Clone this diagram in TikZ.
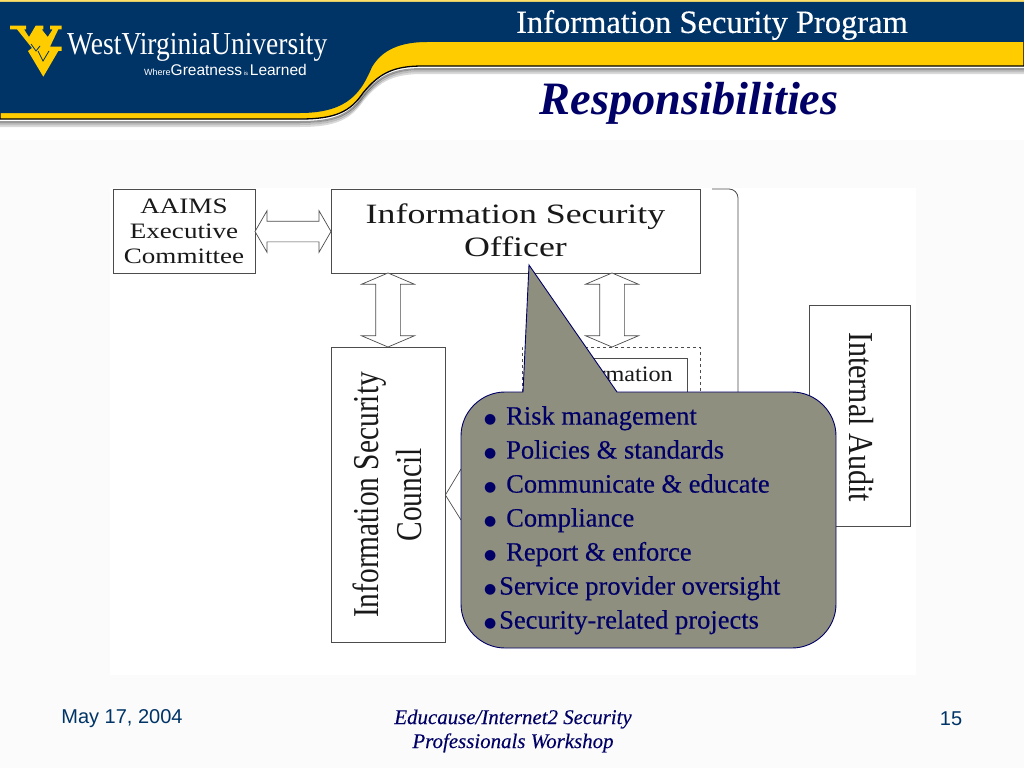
\documentclass[tikz,border=0pt]{standalone}
\usepackage{fontspec}
\setmainfont{Liberation Serif}
\setsansfont{Liberation Sans}
\newfontfamily\heavyserif[FakeBold=0.35]{Liberation Serif}
\newfontfamily\slimitalic[FakeBold=0.2]{Liberation Serif Italic}
\newfontfamily\symfont{DejaVu Sans}
\usetikzlibrary{shapes.arrows}
\definecolor{wvunavy}{RGB}{0,51,102}
\definecolor{wvugold}{RGB}{255,204,0}
\definecolor{calloutgray}{RGB}{143,143,128}
\definecolor{calloutink}{RGB}{0,0,102}
\definecolor{panelgray}{RGB}{250,251,250}
\newcommand{\blt}[1]{\makebox[#1][l]{\raisebox{1.5pt}{\symfont\fontsize{14}{14}\selectfont ●}}}
\newcommand{\stretched}[3]{\scalebox{#1}[#2]{\begin{tabular}{@{}c@{}}#3\end{tabular}}}
\tikzset{
  orgbox/.style={draw=black!70,fill=white,line width=0.8pt,inner sep=0pt},
  boxtext/.style={inner sep=0pt,align=center,text=black!90,font=\fontsize{28}{33}\selectfont},
  twoway/.style n args={4}{double arrow,draw=black!70,fill=white,line width=0.7pt,inner xsep=0pt,inner ysep=#2,
    double arrow head extend=#3,double arrow tip angle=#4,minimum height=#1},
}

\begin{document}
\begin{tikzpicture}[x=1pt,y=-1pt]
\useasboundingbox (0,0) rectangle (1024,768);

\fill[white] (0,0) rectangle (1024,768);
\fill[panelgray] (0,140) rectangle (1024,768);
\fill[white] (110,188) rectangle (916,675);

% header
\fill[wvugold!60] (0,0) rectangle (1024,2);
\foreach \drop/\shade in {7/15,5/25,3/40}{
\draw[black,opacity=0.\shade,line width=2pt] (0,119+\drop) -- (300,119+\drop)
  .. controls (335,119+\drop) and (350,112+\drop) .. (363,93+\drop)
  .. controls (380,72+\drop) and (395,66+\drop) .. (423,66+\drop) -- (1024,66+\drop);
}
\draw[black,fill=wvugold,line width=1.3pt] (0,100) -- (430,30) -- (1024,30) -- (1024,66) -- (423,66)
  .. controls (395,66) and (380,72) .. (363,93)
  .. controls (350,112) and (335,119) .. (300,119) -- (0,119) -- cycle;
\fill[wvunavy] (0,2) -- (1024,2) -- (1024,42) -- (427,42)
  .. controls (400,42) and (382,50) .. (372,67)
  .. controls (362,90) and (350,113) .. (300,113) -- (0,113) -- cycle;

\fill[wvugold] (10,25.7) -- (26,25.7) -- (26,29.3) -- (24,29.3) -- (29,37) -- (35.7,25.7) -- (43.3,25.7)
  -- (43.3,29.3) -- (41.7,29.3) -- (47.7,37) -- (52.7,29.3) -- (50,29.3) -- (50,25.7) -- (61.7,25.7)
  -- (61.7,29.3) -- (58.3,29.3) -- (50,46.7) -- (61.7,46.7) -- (61.7,51) -- (58.3,51) -- (43.3,76.7)
  -- (28,51) -- (32,48) -- (17,29.3) -- (10,29.3) -- cycle;
\draw[wvunavy,line width=0.8pt] (31,44) -- (36,51) -- (40,46) (38,51) -- (43,61) -- (49,51);
\node[text=white,font=\fontsize{32}{32}\selectfont,anchor=west,inner sep=0pt] (wvuname) at (67,47)
  {\scalebox{0.86}[1]{WestVirginiaUniversity}};
\node[text=white,font=\sffamily\fontsize{15.5}{15.5}\selectfont,anchor=west,inner sep=0pt] (wvutag) at (144,70)
  {{\fontsize{9}{9}\selectfont Where}Greatness{\fontsize{6}{6}\selectfont\ is\ }Learned};

\node[text=white,font=\heavyserif\fontsize{32.5}{32.5}\selectfont,inner sep=0pt] (deck) at (712,25) {Information Security Program};
\node[text=calloutink,font=\bfseries\itshape\fontsize{46.4}{46.4}\selectfont,inner sep=0pt] (slide) at (689,103) {Responsibilities};

% org chart
\node[orgbox,minimum width=142pt,minimum height=84pt] (aaims) at (184,231) {};
\node[boxtext,font=\fontsize{22}{25}\selectfont,yshift=-2.5pt] (aaimstext) at (aaims)
  {\stretched{1.23}{1}{AAIMS\\Executive\\Committee}};
\node[orgbox,minimum width=369pt,minimum height=84pt] (iso) at (515.5,231) {};
\node[boxtext,yshift=-2pt] (isotext) at (iso)
  {\stretched{1.28}{1}{Information Security\\Officer}};
\node[orgbox,minimum width=114pt,minimum height=295pt] (council) at (388,495) {};
\node[boxtext,xshift=3pt,rotate=90] (counciltext) at (council)
  {\stretched{1.05}{1.3}{Information Security\\Council}};
\node[orgbox,minimum width=101pt,minimum height=221pt] (audit) at (859.5,415.5) {};
\node[boxtext,xshift=-1.5pt,yshift=-1.5pt,rotate=-90] (audittext) at (audit)
  {\stretched{1.075}{1.25}{Internal Audit}};
\node[draw=black!70,dashed,line width=0.7pt,minimum width=178pt,minimum height=100pt,inner sep=0pt] (group) at (611,397) {};
\node[orgbox,anchor=north east,minimum width=157pt,minimum height=80pt] (infobox) at (688,358) {};
\node[boxtext,font=\fontsize{22}{22}\selectfont,anchor=base east] (infotext) at (673,381)
  {\scalebox{1.1}[1]{Information}};

\node[twoway={76pt}{10pt}{10.5pt}{120}] (arrowa) at (293,231.5) {};
\node[twoway={74pt}{12pt}{14pt}{134},rotate=90] (arrowb) at (388,310) {};
\node[twoway={74pt}{12pt}{14pt}{134},rotate=90] (arrowc) at (612,310) {};
\draw[black!70,line width=0.7pt] (council.east |- 0,495) -- (461,469)
  (council.east |- 0,495) -- (461,520);
\draw[black!70,line width=0.8pt,rounded corners=9pt] (712,189) -- (738,189) -- (738,400);

% callout
\draw[calloutink,line width=0.9pt,fill=calloutgray]
  (523,392) -- (529,265) -- (617,392) -- (792,392) .. controls (816,392) and (836,412) .. (836,436)
  -- (836,604) .. controls (836,628) and (816,648) .. (792,648)
  -- (505,648) .. controls (481,648) and (461,628) .. (461,604)
  -- (461,436) .. controls (461,412) and (481,392) .. (505,392) -- cycle;
\node[text=calloutink,font=\heavyserif\fontsize{26.5}{34}\selectfont,align=left,anchor=north west,inner sep=0pt] (duties) at (484,406)
  {\blt{22pt}Risk management\\\blt{22pt}Policies \& standards\\\blt{22pt}Communicate \& educate\\\blt{22pt}Compliance\\\blt{22pt}Report \& enforce\\\blt{15pt}Service provider oversight\\\blt{15pt}Security-related projects};

% footer
\node[font=\sffamily\fontsize{20}{20}\selectfont,text=wvunavy,inner sep=0pt] (when) at (122,719) {May 17, 2004};
\node[font=\slimitalic\fontsize{20.9}{24}\selectfont,text=calloutink,align=center,inner sep=0pt] (venue) at (513,731)
  {Educause/Internet2 Security\\Professionals Workshop};
\node[font=\sffamily\fontsize{20}{20}\selectfont,text=wvunavy,inner sep=0pt] (pageno) at (951,719) {15};
\end{tikzpicture}
\end{document}
